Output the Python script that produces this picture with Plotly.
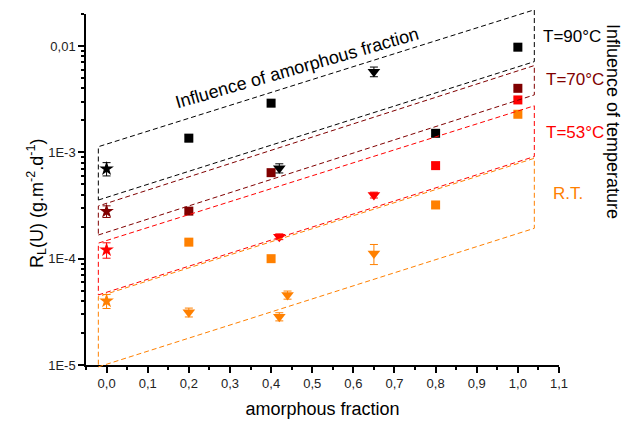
import math
import plotly.graph_objects as go

# ---- measured rates R_L(U) vs amorphous fraction ----
# T = 90 °C
t90_star_x = [0.0]
t90_star_y = [7.0e-4]
t90_star_err = [1.0e-4]
t90_sq_x = [0.2, 0.4, 0.8, 1.0]
t90_sq_y = [1.36e-3, 2.9e-3, 1.51e-3, 9.75e-3]
t90_sq_err = [0.1e-3, 0.2e-3, 0.1e-3, 0.6e-3]
t90_tri_x = [0.42, 0.65]
t90_tri_y = [7.1e-4, 5.74e-3]
t90_tri_err = [0.7e-4, 0.6e-3]

# T = 70 °C
t70_star_x = [0.0]
t70_star_y = [2.79e-4]
t70_star_err = [0.35e-4]
t70_sq_x = [0.2, 0.4, 1.0]
t70_sq_y = [2.8e-4, 6.44e-4, 4.0e-3]
t70_sq_err = [0.15e-4, 0.4e-4, 0.2e-3]

# T = 53 °C
t53_star_x = [0.0]
t53_star_y = [1.21e-4]
t53_star_err = [0.2e-4]
t53_tri_x = [0.42, 0.65]
t53_tri_y = [1.61e-4, 3.97e-4]
t53_tri_err = [0.1e-4, 0.25e-4]
t53_sq_x = [0.8, 1.0]
t53_sq_y = [7.5e-4, 3.11e-3]
t53_sq_err = [0.5e-4, 0.15e-3]

# room temperature
rt_star_x = [0.0]
rt_star_y = [4.0e-5]
rt_star_err = [0.6e-5]
rt_sq_x = [0.2, 0.4, 0.8, 1.0]
rt_sq_y = [1.43e-4, 1.0e-4, 3.2e-4, 2.28e-3]
rt_sq_err = [0.08e-4, 0.06e-4, 0.2e-4, 0.12e-3]
rt_tri_x = [0.2, 0.42, 0.44, 0.65]
rt_tri_y = [3.13e-5, 2.85e-5, 4.56e-5, 1.12e-4]
rt_tri_err = [0.3e-5, 0.25e-5, 0.4e-5, 0.24e-4]

# ---- trend bands (lower / upper bound at both ends) ----
band_x = [-0.02, 1.04]
t90_band_lo = [3.56e-4, 7.13e-3]
t90_band_hi = [1.13e-3, 2.19e-2]
t70_band_lo = [1.67e-4, 3.47e-3]
t70_band_hi = [3.13e-4, 6.55e-3]
t53_band_lo = [4.56e-5, 9.12e-4]
t53_band_hi = [1.40e-4, 2.74e-3]
rt_band_lo = [9.6e-6, 1.93e-4]
rt_band_hi = [4.40e-5, 8.79e-4]

# ---- axis ticks ----
x_tick_vals = [round(0.1 * i, 1) for i in range(12)]
x_tick_text = ["0,0", "0,1", "0,2", "0,3", "0,4", "0,5", "0,6", "0,7", "0,8", "0,9", "1,0", "1,1"]
x_minor_vals = [round(0.05 + 0.1 * i, 2) for i in range(11)] + [-0.05]
y_tick_vals = [1e-5, 1e-4, 1e-3, 1e-2]
y_tick_text = ["1E-5", "1E-4", "1E-3", "0,01"]
y_minor_vals = [m * 10.0 ** e for e in (-5, -4, -3) for m in range(2, 10)] + [2e-2]

BLACK = "#000000"
WINE = "#800000"
RED = "#FF0000"
ORANGE = "#FF8000"
FONT = "Arial, Liberation Sans, sans-serif"

# ---- layout geometry (pixels) ----
W, H = 634, 422
ML, MR, MT, MB = 86, 75, 4, 52
plot_top, plot_bot = 14, 365           # visible axis extent
area_top, area_bot = MT, H - MB        # full drawing area (bands may overshoot)
area_h = area_bot - area_top
y_lo, y_hi = math.log10(1e-5), math.log10(0.02)
px_per_dec = (plot_bot - plot_top) / (y_hi - y_lo)
y2_lo = y_lo - (area_bot - plot_bot) / px_per_dec
y2_hi = y_hi + (plot_top - area_top) / px_per_dec
y_domain = [(area_bot - plot_bot) / area_h, (area_bot - plot_top) / area_h]
x_range = [-0.05, 1.1]


def px(xp, yp):
    """pixel position -> paper coordinates"""
    return (xp - ML) / (W - ML - MR), (area_bot - yp) / area_h


fig = go.Figure()


def points(x, y, err, color, symbol, size):
    fig.add_trace(go.Scatter(
        x=x, y=y, mode="markers",
        marker=dict(symbol=symbol, size=size, color=color, line=dict(width=0)),
        error_y=dict(type="data", array=err, visible=True, color=color,
                     thickness=1, width=4),
        showlegend=False, cliponaxis=False,
    ))


def band(lo, hi, color):
    fig.add_trace(go.Scatter(
        x=[band_x[0], band_x[1], band_x[1], band_x[0], band_x[0]],
        y=[lo[0], lo[1], hi[1], hi[0], lo[0]],
        mode="lines", line=dict(color=color, width=1, dash="5px,3px"),
        xaxis="x2", yaxis="y2", showlegend=False, hoverinfo="skip",
    ))


band(rt_band_lo, rt_band_hi, ORANGE)
band(t53_band_lo, t53_band_hi, RED)
band(t70_band_lo, t70_band_hi, WINE)
band(t90_band_lo, t90_band_hi, BLACK)

points(rt_star_x, rt_star_y, rt_star_err, ORANGE, "star", 11)
points(rt_sq_x, rt_sq_y, rt_sq_err, ORANGE, "square", 9)
points(rt_tri_x, rt_tri_y, rt_tri_err, ORANGE, "triangle-down", 11)
points(t53_star_x, t53_star_y, t53_star_err, RED, "star", 11)
points(t53_tri_x, t53_tri_y, t53_tri_err, RED, "triangle-down", 11)
points(t53_sq_x, t53_sq_y, t53_sq_err, RED, "square", 9)
points(t70_star_x, t70_star_y, t70_star_err, WINE, "star", 11)
points(t70_sq_x, t70_sq_y, t70_sq_err, WINE, "square", 9)
points(t90_star_x, t90_star_y, t90_star_err, BLACK, "star", 11)
points(t90_sq_x, t90_sq_y, t90_sq_err, BLACK, "square", 9)
points(t90_tri_x, t90_tri_y, t90_tri_err, BLACK, "triangle-down", 11)

annotations = []


def label(text, xp, yp, color=BLACK, size=17, angle=0, xanchor="center"):
    xr, yr = px(xp, yp)
    annotations.append(dict(
        text=text, x=xr, y=yr, xref="paper", yref="paper", showarrow=False,
        xanchor=xanchor, yanchor="middle", textangle=angle,
        font=dict(family=FONT, size=size, color=color),
    ))


label("T=90°C", 541, 37, BLACK, xanchor="left")
label("T=70°C", 544, 79, WINE, xanchor="left")
label("T=53°C", 544, 133, RED, xanchor="left")
label("R.T.", 551, 193, ORANGE, xanchor="left")
label("Influence of temperature", 613, 121, BLACK, size=18, angle=90)
label("Influence of amorphous fraction", 297, 68, BLACK, size=18, angle=-16)
label("R<sub>L</sub>(U) (g.m<sup>-2</sup>.d<sup>-1</sup>)", 37, 204, BLACK, size=18, angle=-90)

fig.update_layout(
    width=W, height=H,
    margin=dict(l=ML, r=MR, t=MT, b=MB),
    paper_bgcolor="white", plot_bgcolor="rgba(0,0,0,0)",
    font=dict(family=FONT, size=13, color=BLACK),
    annotations=annotations,
    xaxis=dict(
        range=x_range, tickmode="array", tickvals=x_tick_vals, ticktext=x_tick_text,
        showgrid=False, zeroline=False, showline=True, linecolor=BLACK, linewidth=1.5,
        ticks="outside", ticklen=6, tickwidth=1.5, tickcolor=BLACK,
        tickfont=dict(size=13, color="#222222"),
        minor=dict(tickmode="array", tickvals=x_minor_vals, ticks="outside",
                   ticklen=3, tickwidth=1.5, tickcolor=BLACK, showgrid=False),
        title=dict(text="amorphous fraction", font=dict(size=18), standoff=12),
        anchor="y",
    ),
    yaxis=dict(
        type="log", range=[y_lo, y_hi], domain=y_domain,
        tickmode="array", tickvals=y_tick_vals, ticktext=y_tick_text,
        showgrid=False, zeroline=False, showline=True, linecolor=BLACK, linewidth=1.5,
        ticks="outside", ticklen=6, tickwidth=1.5, tickcolor=BLACK,
        tickfont=dict(size=13, color="#222222"),
        minor=dict(tickmode="array", tickvals=y_minor_vals, ticks="outside",
                   ticklen=3, tickwidth=1.5, tickcolor=BLACK, showgrid=False),
        anchor="x",
    ),
    xaxis2=dict(range=x_range, visible=False, anchor="y2"),
    yaxis2=dict(type="log", range=[y2_lo, y2_hi], domain=[0, 1],
                visible=False, anchor="x2"),
)

fig.write_html("out.html")
